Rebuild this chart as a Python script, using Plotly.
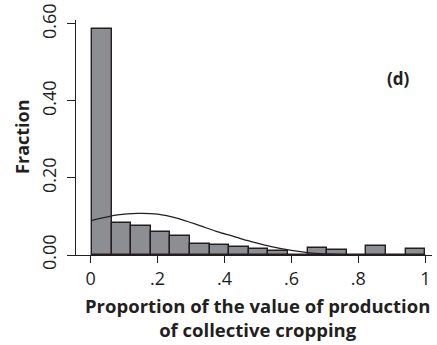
import plotly.graph_objects as go

# Histogram bins (edges) and fractions
bin_edges = [0.004, 0.063, 0.121, 0.180, 0.238, 0.297, 0.355, 0.414, 0.473,
             0.531, 0.590, 0.648, 0.707, 0.765, 0.824, 0.883, 0.941, 1.000]
fractions = [0.586, 0.082, 0.074, 0.061, 0.050, 0.028, 0.027, 0.021, 0.016,
             0.010, 0.000, 0.019, 0.013, 0.000, 0.023, 0.000, 0.015]

# Overlaid density curve (scaled to fraction)
curve_x = [0.004, 0.08, 0.14, 0.20, 0.26, 0.32, 0.38, 0.42, 0.45, 0.48,
           0.54, 0.60, 0.66, 0.72, 0.80, 0.90, 1.00]
curve_y = [0.090, 0.104, 0.108, 0.106, 0.095, 0.078, 0.060, 0.050, 0.042,
           0.035, 0.022, 0.012, 0.005, 0.002, 0.0005, 0.0, 0.0]

x_ticks = [0, 0.2, 0.4, 0.6, 0.8, 1]
x_tick_labels = ["0", ".2", ".4", ".6", ".8", "1"]
y_ticks = [0, 0.2, 0.4, 0.6]
y_tick_labels = ["0.00", "0.20", "0.40", "0.60"]

centers = [(a + b) / 2 for a, b in zip(bin_edges[:-1], bin_edges[1:])]
widths = [b - a for a, b in zip(bin_edges[:-1], bin_edges[1:])]

TXT = "#231f20"
FONT = "Open Sans"

fig = go.Figure()
fig.add_trace(go.Bar(
    x=centers, y=fractions, width=widths,
    marker=dict(color="#8d8e92", line=dict(color="#231f20", width=1.4)),
    showlegend=False, hoverinfo="skip",
))
fig.add_trace(go.Scatter(
    x=curve_x, y=curve_y, mode="lines",
    line=dict(color="#231f20", width=1.3, shape="spline", smoothing=0.6),
    showlegend=False, hoverinfo="skip",
))

fig.update_layout(
    width=437, height=345,
    margin=dict(l=76, r=5, t=20, b=90),
    paper_bgcolor="white", plot_bgcolor="white",
    font=dict(family=FONT, color=TXT, size=18),
    bargap=0,
    xaxis=dict(
        range=[-0.044, 1.02], tickvals=x_ticks, ticktext=x_tick_labels,
        showgrid=False, zeroline=False, showline=True, linecolor=TXT, linewidth=1.3,
        ticks="outside", ticklen=7, tickwidth=1.3, tickcolor=TXT,
        tickfont=dict(size=18, family=FONT, color=TXT), automargin=False,
    ),
    yaxis=dict(
        range=[0, 0.61], tickvals=y_ticks, ticktext=y_tick_labels,
        showgrid=False, zeroline=False, showline=True, linecolor=TXT, linewidth=1.3,
        ticks="outside", ticklen=8, tickwidth=1.3, tickcolor=TXT, tickangle=-90,
        ticklabelstandoff=4,
        tickfont=dict(size=18, family=FONT, color=TXT), automargin=False,
    ),
    annotations=[
        dict(text="<b>(d)</b>", x=0.907, y=0.753, xref="paper", yref="paper",
             xanchor="center", yanchor="middle",
             showarrow=False, font=dict(size=17, family=FONT, color=TXT)),
        dict(text="<b>Proportion of the value of production<br>of collective cropping</b>",
             x=0.511, y=-0.266, xref="paper", yref="paper", xanchor="center", yanchor="middle",
             showarrow=False, font=dict(size=18.5, family=FONT, color=TXT)),
        dict(text="<b>Fraction</b>", x=-0.152, y=0.502, xref="paper", yref="paper",
             xanchor="center", yanchor="middle", textangle=-90,
             showarrow=False, font=dict(size=18, family=FONT, color=TXT)),
    ],
)

fig.write_html("out.html", config={"displayModeBar": False},
               post_script="document.body.style.margin='0';")
